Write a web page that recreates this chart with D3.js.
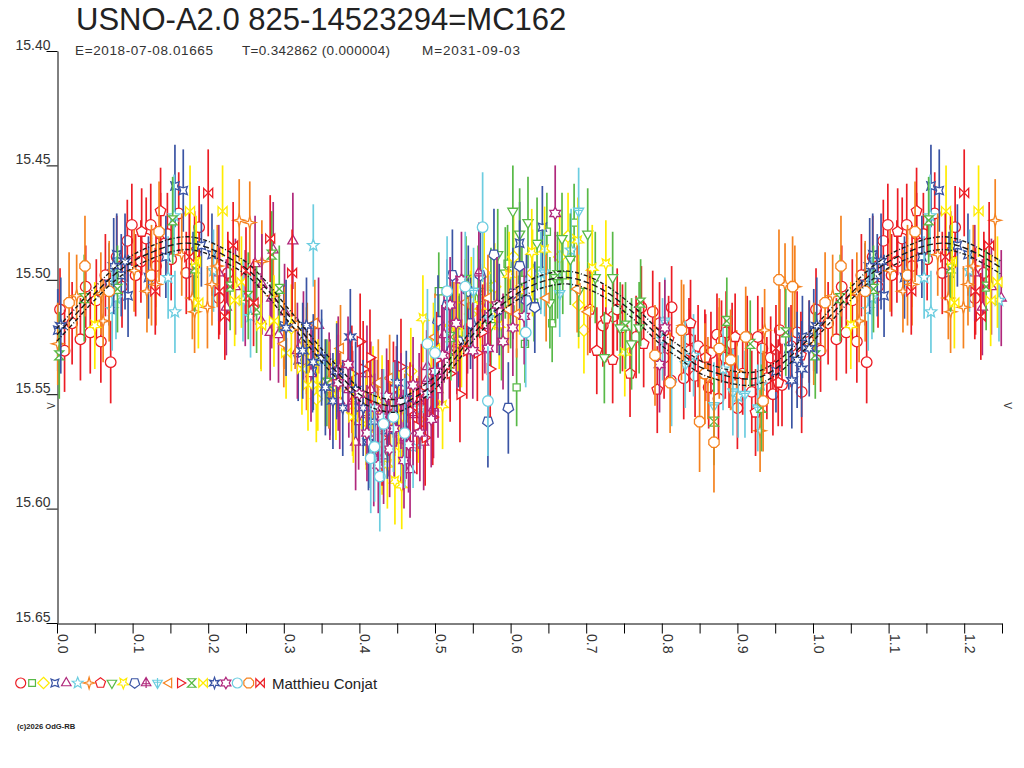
<!DOCTYPE html>
<html>
<head>
<meta charset="utf-8">
<script src="https://cdnjs.cloudflare.com/ajax/libs/d3/7.8.5/d3.min.js"></script>
<style>
  body { margin: 0; background: #fff; }
  text { font-family: "Liberation Sans", Arial, sans-serif; }
</style>
</head>
<body>
<div id="chart"></div>
<script>
// texts
var titleText = "USNO-A2.0 825-14523294=MC162";
var subTexts = ["E=2018-07-08.01665", "T=0.342862 (0.000004)", "M=2031-09-03"];
var observerName = "Matthieu Conjat";
var copyText = "(c)2026 OdG-RB";
var bandName = "V";
var bandMag = 15.555;

// ticks
var yTicks = [15.40, 15.45, 15.50, 15.55, 15.60, 15.65];
var xMajor = [0.0, 0.1, 0.2, 0.3, 0.4, 0.5, 0.6, 0.7, 0.8, 0.9, 1.0, 1.1, 1.2];
var xMinor = [0.05, 0.15, 0.25, 0.35, 0.45, 0.55, 0.65, 0.75, 0.85, 0.95, 1.05, 1.15, 1.25];

var palette = ["#ec1c24", "#58b947", "#ffec00", "#3a54a4", "#b0287c", "#6ccde0", "#f5821f"];

// fitted light curve (phase 0..1)
var curvePhase = [0, 0.025, 0.05, 0.075, 0.1, 0.125, 0.15, 0.175, 0.2, 0.225, 0.25, 0.275, 0.3, 0.325, 0.35,
  0.375, 0.4, 0.425, 0.45, 0.475, 0.5, 0.525, 0.55, 0.575, 0.6, 0.625, 0.65, 0.675, 0.7, 0.725, 0.75,
  0.775, 0.8, 0.825, 0.85, 0.875, 0.9, 0.925, 0.95, 0.975, 1.0];
var curveMag = [15.524, 15.515, 15.506, 15.498, 15.492, 15.488, 15.485, 15.484, 15.486, 15.490, 15.495,
  15.503, 15.513, 15.523, 15.533, 15.542, 15.550, 15.554, 15.555, 15.551, 15.545, 15.535, 15.524, 15.515,
  15.508, 15.503, 15.500, 15.499, 15.501, 15.505, 15.511, 15.518, 15.526, 15.532, 15.538, 15.541, 15.543,
  15.543, 15.539, 15.532, 15.524];
var curveBand = 0.0028;

// observations [phase, mag] per series (symbol/colour)
var s00 = [[0.004,15.513],[0.010,15.531],[0.020,15.519],[0.031,15.526],[0.038,15.503],[0.044,15.523],[0.052,15.509],[0.058,15.527],[0.064,15.498],[0.071,15.536],[0.079,15.490],[0.086,15.503],[0.093,15.483],[0.099,15.476],[0.104,15.498],[0.111,15.492],[0.118,15.482],[0.124,15.476],[0.131,15.494],[0.137,15.480],[0.146,15.480],[0.151,15.491],[0.161,15.471],[0.171,15.497],[0.182,15.488],[0.188,15.477],[0.214,15.508],[0.226,15.497],
  [0.722,15.520],[0.736,15.516],[0.741,15.513],[0.766,15.525],[0.773,15.512],[0.788,15.514],[0.797,15.519],[0.803,15.534],[0.812,15.544],[0.813,15.512],[0.829,15.543],[0.836,15.526],[0.837,15.531],[0.844,15.542],[0.848,15.529],[0.857,15.531],[0.862,15.547],[0.865,15.532],[0.873,15.524],[0.875,15.552],[0.879,15.527],[0.884,15.534],[0.885,15.523],[0.889,15.538],[0.893,15.528],[0.900,15.556],[0.907,15.541],[0.913,15.525],[0.919,15.549],[0.927,15.525],[0.933,15.530],[0.939,15.543],[0.944,15.534],[0.947,15.550],[0.956,15.522],[0.959,15.546],[0.971,15.529],[0.979,15.523],[0.985,15.549],[0.995,15.527]];
var s01 = [[0.505,15.505],[0.532,15.523],[0.558,15.508],[0.574,15.503],[0.588,15.527],[0.596,15.493],[0.600,15.513],[0.608,15.547],[0.615,15.500],[0.619,15.528],[0.631,15.510],[0.640,15.496],[0.648,15.479],[0.655,15.519],[0.669,15.498],[0.684,15.475]];
var s02 = [[0.310,15.521],[0.330,15.531],[0.343,15.552],[0.355,15.545],[0.370,15.537],[0.391,15.558],[0.418,15.548],[0.430,15.575],[0.441,15.561],[0.455,15.573],[0.468,15.540],[0.478,15.561],[0.498,15.529],[0.521,15.520],[0.547,15.515],[0.565,15.497],[0.579,15.503],[0.604,15.490],[0.629,15.497],[0.665,15.490],[0.676,15.481],[0.690,15.511],[0.697,15.522]];
var s03 = [[0.001,15.522],[0.069,15.502],[0.079,15.489],[0.085,15.498],[0.094,15.507],[0.121,15.499],[0.144,15.490],[0.156,15.459],[0.167,15.461],[0.180,15.497],[0.191,15.485],[0.205,15.489],[0.300,15.520],[0.319,15.535],[0.338,15.540],[0.361,15.550],[0.612,15.484],[0.642,15.477],[0.951,15.540],[0.968,15.530],[0.986,15.525]];
var s04 = [[0.214,15.497],[0.224,15.512],[0.236,15.503],[0.249,15.508],[0.262,15.493],[0.270,15.518],[0.282,15.523],[0.286,15.487],[0.293,15.524],[0.301,15.514],[0.312,15.483],[0.318,15.531],[0.326,15.526],[0.336,15.541],[0.346,15.520],[0.360,15.544],[0.374,15.553],[0.386,15.548],[0.395,15.571],[0.399,15.562],[0.410,15.541],[0.415,15.548],[0.424,15.556],[0.432,15.577],[0.438,15.565],[0.447,15.556],[0.455,15.570],[0.462,15.566],[0.467,15.583],[0.479,15.553],[0.485,15.571],[0.490,15.538],[0.504,15.548],[0.512,15.524],[0.519,15.531],[0.543,15.520],[0.566,15.520]];
var s05 = [[0.073,15.513],[0.078,15.508],[0.147,15.499],[0.155,15.472],[0.156,15.514],[0.207,15.496],[0.246,15.509],[0.256,15.516],[0.339,15.485],[0.350,15.535],[0.414,15.573],[0.439,15.565],[0.455,15.568],[0.471,15.573],[0.481,15.556],[0.640,15.497],[0.680,15.487],[0.801,15.526],[0.842,15.533],[0.881,15.539],[0.901,15.551],[0.931,15.546]];
var s06 = [[0.001,15.528],[0.026,15.507],[0.058,15.506],[0.061,15.518],[0.102,15.496],[0.119,15.505],[0.131,15.502],[0.165,15.489],[0.179,15.508],[0.182,15.514],[0.199,15.512],[0.205,15.502],[0.212,15.494],[0.241,15.474],[0.255,15.475],[0.271,15.492],[0.286,15.507],[0.301,15.521],[0.331,15.528],[0.829,15.520],[0.861,15.543],[0.876,15.530],[0.899,15.540],[0.930,15.566],[0.936,15.522],[0.963,15.502],[0.976,15.503]];
var s07 = [[0.112,15.479],[0.137,15.470],[0.705,15.513],[0.714,15.531],[0.726,15.517],[0.735,15.535],[0.748,15.521],[0.758,15.541],[0.776,15.528],[0.794,15.548],[0.809,15.526],[0.838,15.519],[0.858,15.534],[0.897,15.525],[0.924,15.558],[0.954,15.545],[0.984,15.533]];
var s08 = [[0.557,15.505],[0.574,15.520],[0.583,15.489],[0.593,15.497],[0.603,15.470],[0.612,15.480],[0.623,15.475],[0.635,15.484],[0.652,15.510],[0.659,15.499],[0.668,15.482],[0.679,15.491],[0.690,15.505],[0.702,15.480],[0.712,15.499],[0.724,15.534],[0.735,15.499],[0.745,15.521],[0.760,15.528],[0.770,15.521]];
var s09 = [[0.050,15.520],[0.437,15.581],[0.447,15.588],[0.456,15.590],[0.484,15.517],[0.495,15.543],[0.510,15.555],[0.535,15.528],[0.548,15.509],[0.560,15.512],[0.585,15.520],[0.598,15.498],[0.612,15.505],[0.628,15.488],[0.645,15.487],[0.689,15.483],[0.708,15.495],[0.726,15.493],[0.751,15.532]];
var s10 = [[0.504,15.518],[0.516,15.511],[0.523,15.498],[0.531,15.527],[0.544,15.505],[0.547,15.519],[0.560,15.498],[0.570,15.562],[0.578,15.489],[0.585,15.513],[0.597,15.556],[0.603,15.506],[0.612,15.494],[0.621,15.509],[0.632,15.512]];
var s11 = [[0.271,15.502],[0.284,15.508],[0.361,15.548],[0.372,15.538],[0.391,15.553],[0.409,15.559],[0.419,15.577],[0.431,15.566],[0.449,15.551],[0.458,15.570],[0.471,15.559],[0.489,15.544],[0.498,15.556],[0.509,15.533],[0.529,15.528],[0.558,15.497]];
var s12 = [[0.551,15.505],[0.571,15.517],[0.645,15.497],[0.665,15.506],[0.690,15.470],[0.804,15.518],[0.813,15.545],[0.831,15.537],[0.869,15.555],[0.894,15.549],[0.910,15.550],[0.927,15.556]];
var s13 = [[0.300,15.528],[0.315,15.520],[0.330,15.538],[0.341,15.519],[0.360,15.546],[0.375,15.530],[0.390,15.548],[0.410,15.555],[0.425,15.545],[0.440,15.543],[0.460,15.560],[0.500,15.525],[0.525,15.520],[0.540,15.510],[0.570,15.508],[0.597,15.513],[0.608,15.515],[0.647,15.508],[0.688,15.504],[0.702,15.514]];
var s14 = [[0.390,15.541],[0.401,15.527],[0.405,15.539],[0.414,15.534],[0.420,15.555],[0.430,15.569],[0.438,15.556],[0.445,15.548],[0.455,15.538],[0.467,15.557],[0.476,15.564],[0.482,15.549],[0.487,15.569],[0.497,15.560],[0.502,15.535],[0.520,15.541],[0.533,15.550],[0.542,15.531],[0.556,15.532],[0.563,15.523],[0.573,15.539]];
var s15 = [[0.003,15.533],[0.036,15.508],[0.080,15.504],[0.153,15.474],[0.182,15.495],[0.229,15.503],[0.253,15.507],[0.264,15.513],[0.284,15.489],[0.294,15.504],[0.357,15.545],[0.521,15.525],[0.541,15.500],[0.662,15.498],[0.752,15.520],[0.772,15.510],[0.869,15.562],[0.886,15.518],[0.917,15.528],[0.932,15.556],[0.964,15.523]];
var s16 = [[0.176,15.470],[0.184,15.492],[0.187,15.510],[0.219,15.470],[0.235,15.509],[0.244,15.501],[0.270,15.520],[0.287,15.518],[0.303,15.532],[0.324,15.539],[0.332,15.546],[0.345,15.546],[0.369,15.550],[0.392,15.560],[0.409,15.563],[0.430,15.553],[0.452,15.560],[0.500,15.530],[0.530,15.520]];
var s17 = [[0.005,15.520],[0.075,15.494],[0.090,15.492],[0.303,15.521],[0.325,15.531],[0.330,15.520],[0.339,15.536],[0.350,15.534],[0.355,15.547],[0.365,15.553],[0.370,15.540],[0.378,15.556],[0.388,15.525],[0.395,15.548],[0.405,15.556],[0.412,15.571],[0.420,15.562],[0.437,15.566],[0.450,15.545],[0.462,15.552],[0.972,15.544],[0.979,15.535],[0.985,15.539],[0.995,15.530]];
var s18 = [[0.372,15.545],[0.385,15.537],[0.400,15.550],[0.410,15.567],[0.420,15.556],[0.425,15.581],[0.430,15.560],[0.436,15.551],[0.440,15.574],[0.446,15.565],[0.455,15.553],[0.459,15.579],[0.465,15.572],[0.471,15.546],[0.480,15.567],[0.490,15.550],[0.495,15.561],[0.500,15.540],[0.510,15.533],[0.520,15.511],[0.528,15.519],[0.535,15.500],[0.550,15.531],[0.570,15.530],[0.582,15.511],[0.590,15.527],[0.603,15.521],[0.618,15.516],[0.659,15.471],[0.797,15.537],[0.804,15.521]];
var s19 = [[0.415,15.578],[0.420,15.573],[0.427,15.586],[0.432,15.563],[0.445,15.560],[0.460,15.567],[0.490,15.528],[0.500,15.532],[0.516,15.505],[0.540,15.503],[0.563,15.477],[0.570,15.553],[0.620,15.523]];
var s20 = [[0.016,15.510],[0.037,15.494],[0.069,15.505],[0.125,15.498],[0.135,15.479],[0.791,15.533],[0.811,15.545],[0.826,15.522],[0.850,15.562],[0.857,15.541],[0.869,15.571],[0.876,15.530],[0.891,15.535],[0.911,15.525],[0.934,15.553],[0.955,15.500],[0.973,15.503]];
var s21 = [[0.130,15.505],[0.175,15.490],[0.200,15.462],[0.215,15.505],[0.222,15.516],[0.233,15.485],[0.250,15.496],[0.260,15.510],[0.282,15.482],[0.311,15.497],[0.951,15.530]];

var seriesPts = [s00, s01, s02, s03, s04, s05, s06, s07, s08, s09, s10, s11, s12, s13, s14, s15, s16, s17, s18, s19, s20, s21];
var seriesErr = [0.018, 0.017, 0.019, 0.018, 0.021, 0.018, 0.018, 0.019, 0.020, 0.019, 0.020,
                 0.022, 0.019, 0.019, 0.021, 0.019, 0.020, 0.021, 0.021, 0.024, 0.022, 0.019];

var svgWidth = 1024;
var svgHeight = 768;

var svg = d3.select("#chart")
  .append("svg")
  .attr("width", svgWidth)
  .attr("height", svgHeight);

var xScale = d3.scaleLinear().domain([0, 1.25]).range([57, 1002]);
var yScale = d3.scaleLinear().domain([15.40, 15.65]).range([51, 623]);

// marker shapes
function polyPts(n, r, rot) {
  var p = [];
  for (var i = 0; i < n; i++) {
    var a = -Math.PI / 2 + rot + i * 2 * Math.PI / n;
    p.push([r * Math.cos(a), r * Math.sin(a)]);
  }
  return p;
}
function starPts(n, r, ri, rot) {
  var p = [];
  for (var i = 0; i < 2 * n; i++) {
    var a = -Math.PI / 2 + rot + i * Math.PI / n;
    var rr = i % 2 ? ri : r;
    p.push([rr * Math.cos(a), rr * Math.sin(a)]);
  }
  return p;
}
function closed(p) {
  return "M" + p.map(d => d[0].toFixed(2) + "," + d[1].toFixed(2)).join("L") + "Z";
}
function circ(r) {
  return `M${r},0A${r},${r} 0 1,1 ${-r},0A${r},${r} 0 1,1 ${r},0Z`;
}
function shapePath(k, r) {
  var h = r * 0.85;
  switch (k) {
    case 0: case 19: return circ(r);
    case 1: return closed(polyPts(4, r * 0.95, Math.PI / 4));
    case 2: return closed(polyPts(4, r * 1.15, 0));
    case 3: return closed(starPts(4, r * 1.1, r * 0.5, Math.PI / 4));
    case 4: return closed(polyPts(3, r * 1.1, 0));
    case 5: return closed(starPts(5, r * 1.15, r * 0.5, 0));
    case 6: return closed(starPts(4, r * 1.15, r * 0.35, 0));
    case 7: return closed(polyPts(5, r * 1.05, 0));
    case 8: return closed(polyPts(3, r * 1.1, Math.PI));
    case 9: return closed(starPts(5, r * 1.15, r * 0.5, Math.PI));
    case 10: return closed(polyPts(5, r * 1.05, Math.PI));
    case 11: return closed(polyPts(3, r * 1.1, 0)) + `M0,${-r * 1.1}L0,${r}M${-r * 0.6},${r * 0.15}L${r * 0.6},${r * 0.15}`;
    case 12: return closed(polyPts(3, r * 1.1, Math.PI)) + `M0,${r * 1.1}L0,${-r}M${-r * 0.6},${-r * 0.15}L${r * 0.6},${-r * 0.15}`;
    case 13: return closed(polyPts(3, r * 1.1, -Math.PI / 2));
    case 14: return closed(polyPts(3, r * 1.1, Math.PI / 2));
    case 15: return `M${-h},${-h}L${h},${-h}L${-h},${h}L${h},${h}Z`;
    case 16: case 21: return `M${-h},${-h}L${h},${h}L${h},${-h}L${-h},${h}Z`;
    case 17: return closed(starPts(6, r * 1.15, r * 0.5, 0));
    case 18: return closed(starPts(6, r * 1.15, r * 0.66, 0));
    case 20: return closed(polyPts(8, r * 1.05, Math.PI / 8));
  }
  return circ(r);
}

// titles
svg.append("text")
  .attr("x", 76).attr("y", 30)
  .attr("font-size", 31)
  .attr("fill", "#222")
  .text(titleText);

// the subtitle is spread out a little in the original
var subX = [75, 242, 422];
var subLen = [138, 148, 98];
svg.selectAll(".sub")
  .data(subTexts)
  .enter()
  .append("text")
  .attr("x", (d, i) => subX[i])
  .attr("y", 55)
  .attr("font-size", 13.5)
  .attr("textLength", (d, i) => subLen[i])
  .attr("lengthAdjust", "spacing")
  .attr("fill", "#333")
  .text(d => d);

// axes
var leftAxis = d3.axisLeft(yScale)
  .tickValues(yTicks)
  .tickSize(11)
  .tickSizeOuter(0)
  .tickPadding(-4)
  .tickFormat(d3.format(".2f"));

var yAxisG = svg.append("g")
  .attr("transform", "translate(57.5,0)")
  .call(leftAxis);
yAxisG.selectAll("text")
  .attr("dy", "-2")
  .attr("font-size", 14)
  .attr("font-family", "Liberation Sans, Arial, sans-serif")
  .attr("fill", "#333");
yAxisG.selectAll("line, path").attr("stroke", "#000");

var bottomAxis = d3.axisBottom(xScale)
  .tickValues(xMajor.concat(xMinor))
  .tickSize(10)
  .tickSizeOuter(0)
  .tickFormat("");

var xAxisG = svg.append("g")
  .attr("transform", "translate(0,623.5)")
  .call(bottomAxis);
xAxisG.selectAll("line, path").attr("stroke", "#000");

svg.selectAll(".xlab")
  .data(xMajor)
  .enter()
  .append("text")
  .attr("transform", d => `translate(${xScale(d) + 1},634) rotate(90)`)
  .attr("font-size", 14)
  .attr("fill", "#333")
  .text(d => d3.format(".1f")(d));

// band marks
svg.append("text")
  .attr("transform", `translate(55,${yScale(bandMag)}) rotate(-90)`)
  .attr("text-anchor", "middle")
  .attr("font-size", 10)
  .attr("fill", "#333")
  .text(bandName);
svg.append("text")
  .attr("transform", `translate(1004,${yScale(bandMag)}) rotate(90)`)
  .attr("text-anchor", "middle")
  .attr("font-size", 10)
  .attr("fill", "#333")
  .text(bandName);

// observations, with phases < 0.25 repeated after 1.0
var obs = [];
seriesPts.forEach((pts, si) => {
  pts.forEach(p => {
    obs.push({s: si, phase: p[0], mag: p[1], err: seriesErr[si]});
    if (p[0] < 0.25) obs.push({s: si, phase: p[0] + 1, mag: p[1], err: seriesErr[si]});
  });
});

var obsGroup = svg.append("g");
var obsItems = obsGroup.selectAll("g")
  .data(obs)
  .enter()
  .append("g")
  .attr("transform", d => `translate(${xScale(d.phase)},${yScale(d.mag)})`);

obsItems.append("line")
  .attr("x1", 0).attr("x2", 0)
  .attr("y1", d => yScale(d.mag - d.err) - yScale(d.mag))
  .attr("y2", d => yScale(d.mag + d.err) - yScale(d.mag))
  .attr("stroke", d => palette[d.s % 7])
  .attr("stroke-width", 1.7);

obsItems.append("path")
  .attr("d", d => shapePath(d.s, 5.3))
  .attr("fill", "#fff")
  .attr("stroke", d => palette[d.s % 7])
  .attr("stroke-width", 1.3);

// fitted curves
var curveData = curvePhase.map((p, i) => [p, curveMag[i]]);
curvePhase.forEach((p, i) => {
  if (p > 0 && p <= 0.25) curveData.push([p + 1, curveMag[i]]);
});

var curveLine = off => d3.line()
  .x(d => xScale(d[0]))
  .y(d => yScale(d[1] + off))
  .curve(d3.curveCatmullRom);

[[-curveBand, "4,2,1,2"], [0, "6,3"], [curveBand, "4,2,1,2"]].forEach(c => {
  svg.append("path")
    .datum(curveData)
    .attr("d", curveLine(c[0]))
    .attr("fill", "none")
    .attr("stroke", "#1a1a1a")
    .attr("stroke-width", 1.4)
    .attr("stroke-dasharray", c[1]);
});

// legend
var legend = svg.append("g").attr("transform", "translate(0,683)");
legend.selectAll("path")
  .data(seriesPts)
  .enter()
  .append("path")
  .attr("transform", (d, i) => `translate(${20.7 + i * 11.4},0)`)
  .attr("d", (d, i) => shapePath(i, 5))
  .attr("fill", "#fff")
  .attr("stroke", (d, i) => palette[i % 7])
  .attr("stroke-width", 1.2);

legend.append("text")
  .attr("x", 272).attr("y", 6)
  .attr("font-size", 15)
  .attr("fill", "#222")
  .text(observerName);

svg.append("text")
  .attr("x", 17).attr("y", 729)
  .attr("font-size", 7.6)
  .attr("font-weight", "bold")
  .attr("fill", "#222")
  .text(copyText);
</script>
</body>
</html>
